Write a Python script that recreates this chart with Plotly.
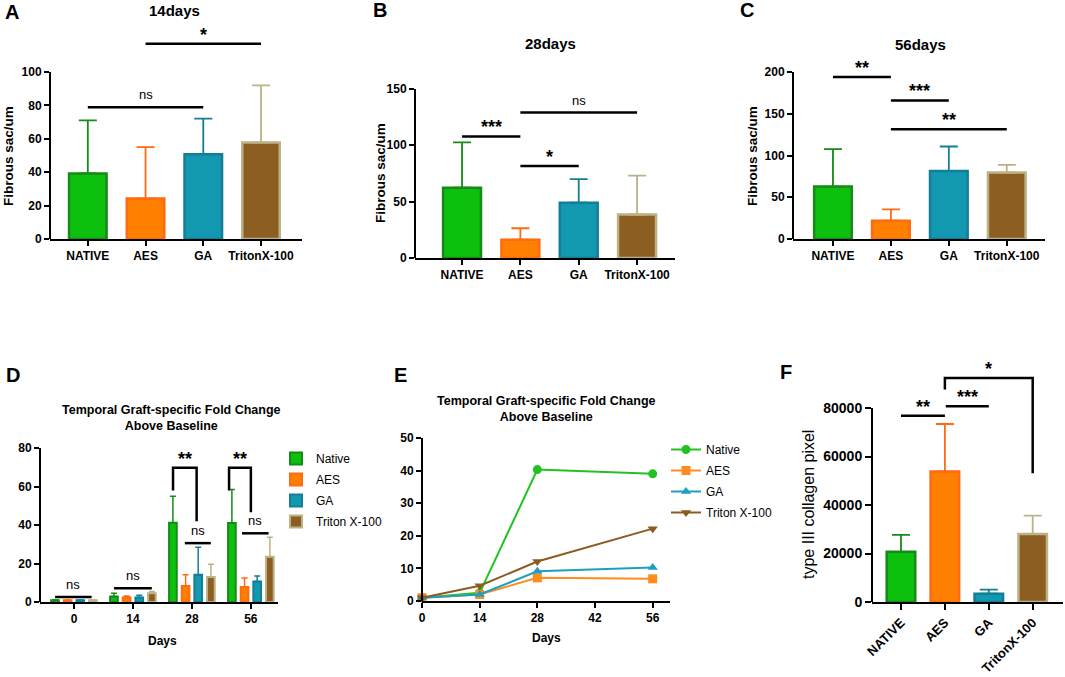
import plotly.graph_objects as go

W, H = 1065, 677
FONT = "Liberation Sans, Arial, sans-serif"

# ---- data ----
groups = ["NATIVE", "AES", "GA", "TritonX-100"]
fill_colors = ["#0DC00D", "#FF8000", "#1398B2", "#8C5E22"]
edge_colors = ["#178A17", "#FF6A12", "#147E96", "#BDB286"]

a_mean = [39.2, 24.2, 50.8, 57.8]
a_sd = [31.8, 30.8, 21.2, 34.2]
b_mean = [62.4, 16.3, 49.0, 38.6]
b_sd = [40.1, 10.1, 21.0, 34.4]
c_mean = [62.8, 22.0, 81.6, 79.6]
c_sd = [44.8, 13.6, 29.2, 9.2]
f_mean = [20700, 53800, 3450, 28000]
f_sd = [7000, 19600, 1650, 7600]

days = ["0", "14", "28", "56"]
series = ["Native", "AES", "GA", "Triton X-100"]
d_native = [0.9, 2.9, 41.2, 41.0]
d_native_sd = [0.1, 1.6, 13.7, 17.5]
d_aes = [0.9, 2.4, 8.3, 7.8]
d_aes_sd = [0.1, 0.7, 5.9, 4.7]
d_ga = [0.9, 2.3, 14.2, 10.6]
d_ga_sd = [0.1, 1.2, 14.2, 2.9]
d_triton = [0.9, 4.5, 13.0, 23.5]
d_triton_sd = [0.1, 0.9, 6.6, 10.1]

e_days = [0, 14, 28, 56]
e_native = [1.0, 2.5, 40.3, 39.0]
e_aes = [1.0, 2.0, 7.1, 6.8]
e_ga = [1.0, 2.0, 9.1, 10.3]
e_triton = [1.0, 4.7, 12.1, 22.2]
line_colors = ["#22C222", "#FF8C1E", "#1CA0C0", "#8A5C20"]
line_symbols = ["circle", "square", "triangle-up", "triangle-down"]


def px_x(a, b):
    return [a / W, b / W]


def px_y(bottom, top):
    return [1 - bottom / H, 1 - top / H]


fig = go.Figure()

# panel geometry in pixels of the target picture
panels = [
    dict(n="", xpx=(50, 302), xr=[-0.655, 3.71], ypx=(239, 30), yr=[0, 125.1], ticks=[0, 20, 40, 60, 80, 100]),
    dict(n="2", xpx=(415, 675), xr=[-0.806, 3.65], ypx=(258, 80), yr=[0, 157.9], ticks=[0, 50, 100, 150]),
    dict(n="3", xpx=(793, 1045), xr=[-0.69, 3.66], ypx=(239, 55), yr=[0, 220.4], ticks=[0, 50, 100, 150, 200]),
    dict(n="4", xpx=(40, 278), xr=[-0.576, 3.46], ypx=(602, 440), yr=[0, 84.2], ticks=[0, 20, 40, 60, 80]),
    dict(n="5", xpx=(422, 670), xr=[0, 60.2], ypx=(601, 438), yr=[0, 50], ticks=[0, 10, 20, 30, 40, 50]),
    dict(n="6", xpx=(872, 1063), xr=[-0.66, 3.69], ypx=(602, 355), yr=[0, 101856], ticks=[0, 20000, 40000, 60000, 80000]),
]

shapes = []
for p in panels:
    fs = 14 if p["n"] == "6" else 12
    tl = 6 if p["n"] == "6" else 5
    tickfont = dict(family=FONT, size=fs, color="black", weight="bold")
    xa = dict(domain=px_x(*p["xpx"]), range=p["xr"], showline=True, linewidth=2, linecolor="black",
              ticks="outside", ticklen=tl, tickwidth=2, tickcolor="black", showgrid=False,
              zeroline=False, tickfont=tickfont, anchor="y" + p["n"], fixedrange=True, automargin=False)
    ya = dict(domain=px_y(*p["ypx"]), range=p["yr"], showline=False, ticks="outside", ticklen=tl,
              tickwidth=2, tickcolor="black", showgrid=False, zeroline=False, tickfont=tickfont,
              tickvals=p["ticks"], ticktext=[str(t) for t in p["ticks"]], anchor="x" + p["n"],
              fixedrange=True, automargin=False)
    if p["n"] in ("", "2", "3", "6"):
        xa.update(type="category", categoryarray=groups, categoryorder="array")
    elif p["n"] == "4":
        xa.update(type="category", categoryarray=days, categoryorder="array")
    else:
        xa.update(type="linear", tickvals=[0, 14, 28, 42, 56])
    if p["n"] == "6":
        xa.update(tickangle=-45, tickfont=dict(family=FONT, size=13, color="black", weight="bold"))
    fig.update_layout(**{"xaxis" + p["n"]: xa, "yaxis" + p["n"]: ya})
    # y axis line only up to the last tick
    shapes.append(dict(type="line", xref="paper", yref="y" + p["n"], x0=p["xpx"][0] / W, x1=p["xpx"][0] / W,
                       y0=0, y1=p["ticks"][-1], line=dict(color="black", width=2)))

# single-timepoint bar panels
for n, mean, sd in [("", a_mean, a_sd), ("2", b_mean, b_sd), ("3", c_mean, c_sd), ("6", f_mean, f_sd)]:
    for i, g in enumerate(groups):
        fig.add_trace(go.Bar(
            x=[g], y=[mean[i]], width=0.65, showlegend=False,
            marker=dict(color=fill_colors[i], line=dict(color=edge_colors[i], width=2.5)),
            error_y=dict(type="data", symmetric=False, array=[sd[i]], arrayminus=[0],
                         color=edge_colors[i], thickness=1.8, width=9),
            xaxis="x" + n, yaxis="y" + n))

# grouped bars (D)
d_vals = [d_native, d_aes, d_ga, d_triton]
d_sds = [d_native_sd, d_aes_sd, d_ga_sd, d_triton_sd]
centers = [-0.322, -0.107, 0.107, 0.322]
for i, s in enumerate(series):
    fig.add_trace(go.Bar(
        x=days, y=d_vals[i], width=0.13, offset=centers[i] - 0.065, name=s,
        legend="legend", legendgroup="d" + str(i),
        marker=dict(color=fill_colors[i], line=dict(color=edge_colors[i], width=2)),
        error_y=dict(type="data", symmetric=False, array=d_sds[i], arrayminus=[0] * 4,
                     color=edge_colors[i], thickness=1.5, width=3),
        xaxis="x4", yaxis="y4"))

# lines (E)
e_vals = [e_native, e_aes, e_ga, e_triton]
for i, s in enumerate(series):
    fig.add_trace(go.Scatter(
        x=e_days, y=e_vals[i], mode="lines+markers", name=s, cliponaxis=False,
        legend="legend2", legendgroup="e" + str(i),
        line=dict(color=line_colors[i], width=2),
        marker=dict(symbol=line_symbols[i], size=9, color=line_colors[i]),
        xaxis="x5", yaxis="y5"))

annotations = []


def sig(n, x0, x1, y, label, legs=None, shift=None):
    xr, yr = "x" + n, "y" + n
    if legs:
        path = "M %s,%s L %s,%s L %s,%s L %s,%s" % (x0, legs[0], x0, y, x1, y, x1, legs[1])
        shapes.append(dict(type="path", path=path, xref=xr, yref=yr, line=dict(color="black", width=2.5)))
    else:
        shapes.append(dict(type="line", xref=xr, yref=yr, x0=x0, x1=x1, y0=y, y1=y,
                           line=dict(color="black", width=2.5)))
    star = label.startswith("*")
    annotations.append(dict(
        x=(x0 + x1) / 2, y=y, xref=xr, yref=yr, text=label, showarrow=False, yanchor="bottom",
        yshift=(shift if shift is not None else (-3 if star else 3)),
        font=dict(family=FONT, size=18 if star else 13, color="black", weight="bold" if star else "normal")))


sig("", 0, 2, 78.8, "ns")
sig("", 1, 3, 116.8, "*")
sig("2", 0, 1, 107.8, "***")
sig("2", 1, 2, 81.7, "*")
sig("2", 1, 3, 129, "ns")
sig("3", 0, 1, 194, "**")
sig("3", 1, 2, 166, "***")
sig("3", 1, 3, 131.6, "**")
sig("6", 0.0, 1, 76800, "**")
sig("6", 1.02, 2, 80700, "***")
sig("6", 1, 3, 92400, "*", legs=(87600, 53100))
sig("4", -0.32, 0.3, 2.6, "ns")
sig("4", 0.68, 1.32, 7.1, "ns")
sig("4", 1.68, 2.08, 69.8, "**", legs=(58, 42))
sig("4", 1.88, 2.32, 30.6, "ns")
sig("4", 2.63, 3.0, 69.8, "**", legs=(58, 46.7))
sig("4", 2.85, 3.3, 35.7, "ns")


def text(x, y, s, size, bold=True, angle=0):
    annotations.append(dict(x=x / W, y=1 - y / H, xref="paper", yref="paper", text=s, showarrow=False,
                            xanchor="center", yanchor="middle", textangle=angle,
                            font=dict(family=FONT, size=size, color="black",
                                      weight="bold" if bold else "normal")))


for lab, x, y in [("A", 12, 12), ("B", 380, 10), ("C", 747, 10), ("D", 13, 375), ("E", 400, 375), ("F", 786, 372)]:
    text(x, y, lab, 20)
text(174, 10, "14days", 15)
text(550, 44, "28days", 15)
text(920, 45, "56days", 15)
text(171, 418, "Temporal Graft-specific Fold Change<br>Above Baseline", 12.5)
text(546, 409, "Temporal Graft-specific Fold Change<br>Above Baseline", 12.5)
text(162, 641, "Days", 12)
text(546, 638, "Days", 12)
text(8, 156, "Fibrous sac/um", 13.5, angle=-90)
text(380, 173, "Fibrous sac/um", 13.5, angle=-90)
text(752, 156, "Fibrous sac/um", 13.5, angle=-90)
text(808, 505, "type III collagen pixel", 16, bold=False, angle=-90)

legend_common = dict(font=dict(family=FONT, size=12, color="black"), bgcolor="rgba(0,0,0,0)",
                     xanchor="left", yanchor="top", tracegroupgap=2, itemclick=False)
fig.update_layout(
    template="none",
    width=W, height=H, margin=dict(l=0, r=0, t=0, b=0, autoexpand=False),
    paper_bgcolor="white", plot_bgcolor="white", barmode="overlay",
    font=dict(family=FONT, color="black"),
    shapes=shapes, annotations=annotations,
    legend=dict(x=276 / W, y=1 - 444 / H, **legend_common),
    legend2=dict(x=666 / W, y=1 - 435 / H, **legend_common),
)

fig.write_html("out.html", config={"displayModeBar": False},
               post_script="document.body.style.margin='0';")
